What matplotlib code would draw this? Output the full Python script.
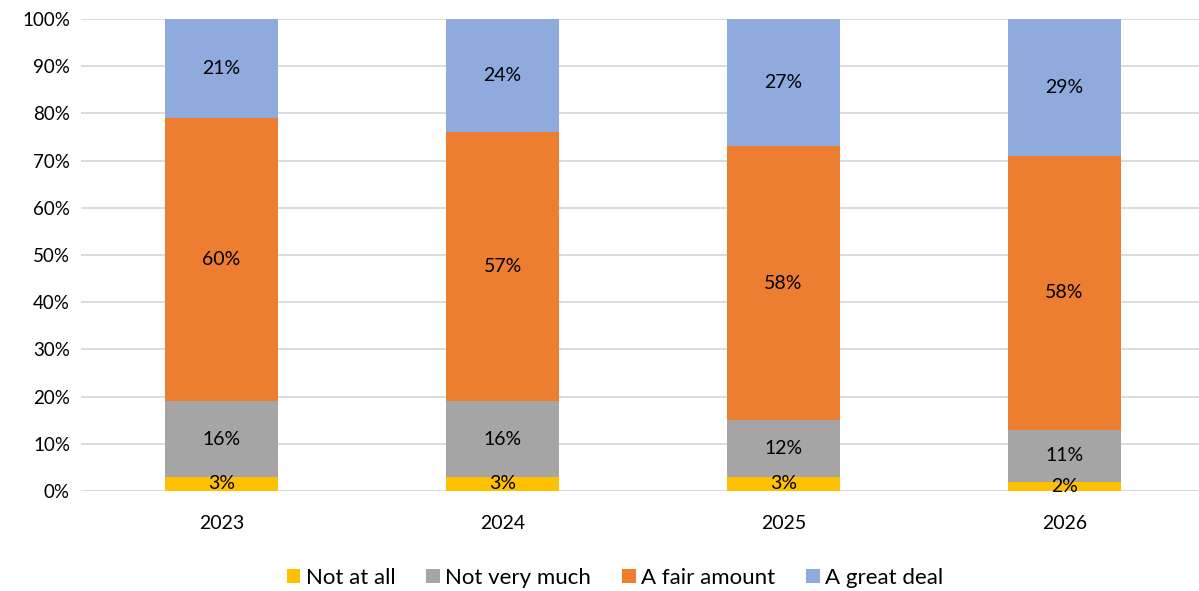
import matplotlib.pyplot as plt
import numpy as np

plt.rcParams['font.family'] = ['Lato', 'DejaVu Sans']

years = ['2023', '2024', '2025', '2026']
not_at_all = [3, 3, 3, 2]
not_very_much = [16, 16, 12, 11]
fair_amount = [60, 57, 58, 58]
great_deal = [21, 24, 27, 29]

series = [
    ('Not at all', not_at_all, '#FFC000'),
    ('Not very much', not_very_much, '#A5A5A5'),
    ('A fair amount', fair_amount, '#ED7D31'),
    ('A great deal', great_deal, '#8FAADC'),
]

fig = plt.figure(figsize=(11.99, 5.91), dpi=100)
ax = fig.add_axes([0.0676, 0.1692, 0.9375, 0.7987])

x = np.arange(len(years))
bottom = np.zeros(len(years))
for name, vals, color in series:
    vals = np.array(vals, dtype=float)
    ax.bar(x, vals, 0.4, bottom=bottom, color=color, label=name, zorder=2)
    for xi, b, v in zip(x, bottom, vals):
        ax.text(xi, b + v / 2, f'{int(v)}%', ha='center', va='center',
                fontsize=14, color='black', zorder=3)
    bottom += vals

ax.set_xlim(-0.5, len(years) - 0.5)
ax.set_ylim(0, 100)
ax.set_yticks(range(0, 101, 10))
ax.set_yticklabels([f'{v}%' for v in range(0, 101, 10)], fontsize=13.5)
ax.set_xticks(x)
ax.set_xticklabels(years, fontsize=14)
ax.tick_params(axis='both', length=0)
ax.tick_params(axis='x', pad=17)
ax.tick_params(axis='y', pad=8)
ax.yaxis.grid(True, color='#D9D9D9', linewidth=1.3, zorder=0)
for s in ax.spines.values():
    s.set_visible(False)
ax.axhline(0, color='#D9D9D9', linewidth=1.3, zorder=1)

fig.legend(loc='lower center', bbox_to_anchor=(0.513, -0.029), ncol=4, frameon=False,
           fontsize=16, handlelength=0.6, handleheight=0.6, handletextpad=0.25,
           columnspacing=1.4)

fig.savefig('out.png', dpi=100)
